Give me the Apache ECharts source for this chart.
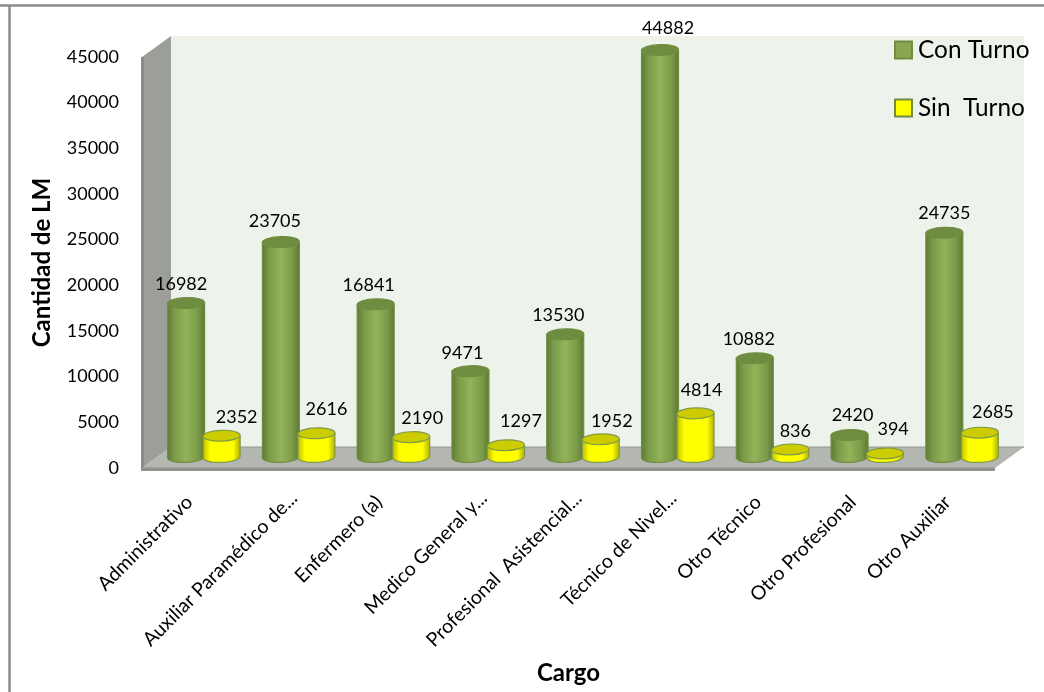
<!DOCTYPE html>
<html>
<head>
<meta charset="utf-8">
<style>html,body{margin:0;padding:0;background:#fff}#chart{width:1044px;height:692px}</style>
<script src="https://cdn.jsdelivr.net/npm/echarts@6/dist/echarts.min.js"></script>
</head>
<body>
<div id="chart"></div>
<script>
// Licencias médicas por cargo, con y sin turno
const categories = ['Administrativo', 'Auxiliar Paramédico de...', 'Enfermero (a)', 'Medico General y...',
  'Profesional  Asistencial...', 'Técnico de Nivel...', 'Otro Técnico', 'Otro Profesional', 'Otro Auxiliar'];
const conTurno = [16982, 23705, 16841, 9471, 13530, 44882, 10882, 2420, 24735];
const sinTurno = [2352, 2616, 2190, 1297, 1952, 4814, 836, 394, 2685];
const yTicks = { min: 0, max: 45000, interval: 5000 };

// Per-label nudges [dx, dy] from the top of each cylinder
const conNudge = [[-5,-19],[-6,-21],[-7,-19],[-8,-18],[-7,-19],[8,-22],[-6,-19],[3,-20],[0,-20]];
const sinNudge = [[15,-18],[10,-24],[11,-19],[15,-24],[11,-18],[6,-23],[5,-18],[8,-24],[13,-20]];

const FONT = 'Lato';
const DEPTH_X = 29, DEPTH_Y = 21;

const greenBody = ['#5C7834', '#7C9B49', '#93B259', '#7C9B49', '#5A7632'];
const yellowBody = ['#B9B900', '#FFFF00', '#FFFF00', '#FFFF00', '#ABAB00'];

function bodyFill(c) {
  return { type: 'linear', x: 0, y: 0, x2: 1, y2: 0, colorStops: [
    { offset: 0, color: c[0] }, { offset: 0.2, color: c[1] }, { offset: 0.5, color: c[2] },
    { offset: 0.8, color: c[3] }, { offset: 1, color: c[4] } ] };
}

// Draws one cylinder: body with rounded base, top cap and value label
function cylinder(side, body, cap, stroke, nudge) {
  return function (params, api) {
    const i = api.value(0), v = api.value(1);
    const band = api.size([1, 0])[0];
    const top = api.coord([i, v]), base = api.coord([i, 0]);
    const cx = top[0] + side * band * 0.1875;
    const rx = band * 0.195, ry = 5.4;
    const pts = [[cx - rx, top[1]]];
    for (let a = 180; a >= 0; a -= 10) {
      const t = a * Math.PI / 180;
      pts.push([cx + rx * Math.cos(t), base[1] + ry * Math.sin(t) - (Math.cos(t) * 0.8)]);
    }
    pts.push([cx + rx, top[1]]);
    const n = nudge[i];
    return { type: 'group', children: [
      { type: 'polygon', shape: { points: pts }, style: { fill: bodyFill(body), stroke: stroke, lineWidth: 1.2 } },
      { type: 'ellipse', shape: { cx: cx, cy: top[1], rx: rx, ry: ry }, rotation: 0.03, originX: cx, originY: top[1],
        style: { fill: cap, stroke: stroke, lineWidth: 1.2 } },
      { type: 'text', z2: 20, style: { x: cx + n[0], y: top[1] + n[1], text: String(v), fill: '#000',
        font: '18px ' + FONT, align: 'center', verticalAlign: 'middle' } }
    ] };
  };
}

// Back wall, side wall and floor of the plot box, derived from the front plane
function walls(params) {
  const c = params.coordSys;
  const L = c.x, T = c.y, R = c.x + c.width, B = c.y + c.height;
  const d = DEPTH_X, e = DEPTH_Y;
  return { type: 'group', children: [
    { type: 'polygon', shape: { points: [[L + d, T - e], [R + d, T - e], [R + d, B - e], [L + d, B - e]] }, style: { fill: '#EDF3EA' } },
    { type: 'polygon', shape: { points: [[L, T], [L + d, T - e], [L + d, B - e], [L, B]] }, style: { fill: '#9C9E99' } },
    { type: 'rect', shape: { x: L - 1, y: T, width: 3, height: B - T }, style: { fill: '#8A8C87' } },
    { type: 'polygon', shape: { points: [[L, B], [L + d, B - e], [R + d, B - e], [R, B]] }, style: { fill: '#B4B6B1' } },
    { type: 'line', shape: { x1: L + d, y1: B - e, x2: R + d, y2: B - e }, style: { stroke: '#96988F', lineWidth: 1 } },
    { type: 'rect', shape: { x: L - 1, y: B - 0.5, width: R - L + 1, height: 3.5 }, style: { fill: '#8F918C' } }
  ] };
}

// Shortened names sit slightly further right than the full ones
const isShortened = name => name.endsWith('...');

const chart = echarts.init(document.getElementById('chart'), null, { renderer: 'canvas' });
chart.setOption({
  animation: false,
  backgroundColor: '#fff',
  textStyle: { fontFamily: FONT },
  graphic: [
    { type: 'line', z: -1, shape: { x1: 0, y1: 5.5, x2: 1044, y2: 5.5 }, style: { stroke: '#8C8C8C', lineWidth: 2.5 } },
    { type: 'line', z: -1, shape: { x1: 9.5, y1: 5, x2: 9.5, y2: 692 }, style: { stroke: '#8C8C8C', lineWidth: 2.5 } }
  ],
  grid: [
    { left: 142, top: 57, width: 853, height: 411, outerBoundsMode: 'none' },
    { left: 156.5, top: 49, width: 853, height: 408, outerBoundsMode: 'none' },
    { left: 152, top: 57, width: 853, height: 411, outerBoundsMode: 'none' }
  ],
  xAxis: [
    { gridIndex: 0, type: 'category', data: categories,
      name: 'Cargo', nameLocation: 'middle', nameGap: 193,
      nameTextStyle: { fontFamily: FONT, fontWeight: 'bold', fontSize: 24, color: '#000' },
      axisLine: { show: false }, axisTick: { show: false }, splitLine: { show: false },
      axisLabel: { interval: 0, rotate: 45, margin: 31, fontFamily: FONT, fontSize: 19.5, color: '#000',
        formatter: name => (isShortened(name) ? '' : name) } },
    { gridIndex: 1, type: 'category', data: categories, show: false },
    { gridIndex: 2, type: 'category', data: categories,
      axisLine: { show: false }, axisTick: { show: false }, splitLine: { show: false },
      axisLabel: { interval: 0, rotate: 45, margin: 27, fontFamily: FONT, fontSize: 19.5, color: '#000',
        formatter: name => (isShortened(name) ? name : '') } }
  ],
  yAxis: [
    { gridIndex: 0, type: 'value', min: yTicks.min, max: yTicks.max, interval: yTicks.interval,
      name: 'Cantidad de LM', nameLocation: 'middle', nameGap: 88,
      nameTextStyle: { fontFamily: FONT, fontWeight: 'bold', fontSize: 24, color: '#000' },
      axisLine: { show: false }, axisTick: { show: false }, splitLine: { show: false },
      axisLabel: { margin: 23, fontFamily: FONT, fontSize: 18, color: '#000', padding: [5, 0, 0, 0], formatter: v => String(v) } },
    { gridIndex: 1, type: 'value', min: yTicks.min, max: yTicks.max, interval: yTicks.interval, show: false },
    { gridIndex: 2, type: 'value', min: yTicks.min, max: yTicks.max, interval: yTicks.interval, show: false }
  ],
  legend: {
    orient: 'vertical', left: 894, top: 38, padding: 0, itemWidth: 17, itemHeight: 17, itemGap: 34,
    selectedMode: false, icon: 'rect',
    textStyle: { fontFamily: FONT, fontSize: 24.4, color: '#000', padding: [0, 0, 0, 1] },
    data: [
      { name: 'Con Turno', itemStyle: { color: '#8AA650', borderColor: '#6F8C41', borderWidth: 2 } },
      { name: 'Sin  Turno', itemStyle: { color: '#FFFF00', borderColor: '#6F8C41', borderWidth: 2 } }
    ]
  },
  series: [
    { type: 'custom', name: 'Marco', xAxisIndex: 0, yAxisIndex: 0, z: 1, clip: false, silent: true,
      renderItem: walls, data: [[0, 0]] },
    { type: 'custom', name: 'Con Turno', xAxisIndex: 1, yAxisIndex: 1, z: 3, clip: false,
      itemStyle: { color: '#8AA650' },
      renderItem: cylinder(-1, greenBody, '#6E8D40', '#6F8C41', conNudge),
      encode: { x: 0, y: 1 }, data: conTurno.map((v, i) => [i, v]) },
    { type: 'custom', name: 'Sin  Turno', xAxisIndex: 1, yAxisIndex: 1, z: 4, clip: false,
      itemStyle: { color: '#FFFF00' },
      renderItem: cylinder(1, yellowBody, '#CCCC00', '#7F9A48', sinNudge),
      encode: { x: 0, y: 1 }, data: sinTurno.map((v, i) => [i, v]) }
  ]
});
</script>
</body>
</html>
